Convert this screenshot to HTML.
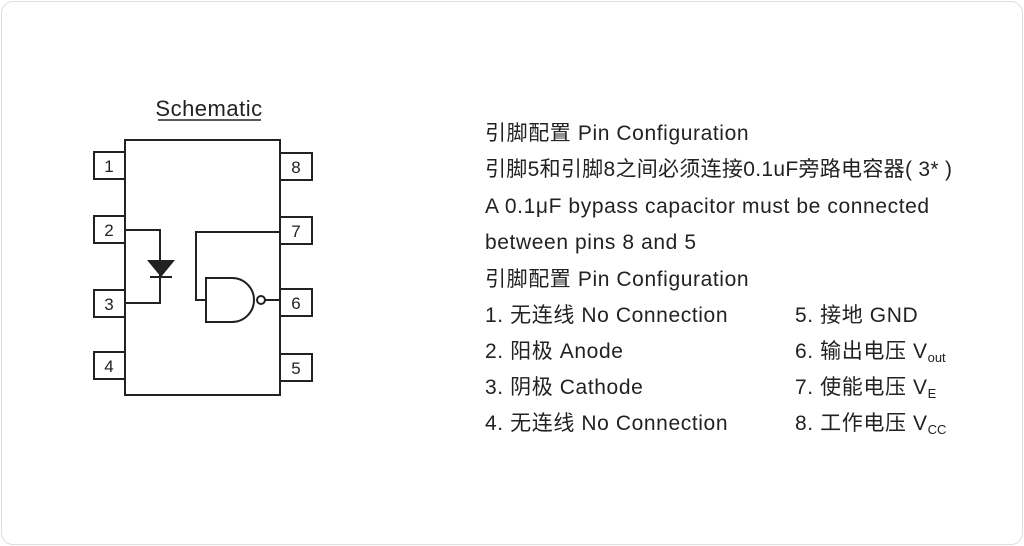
<!DOCTYPE html>
<html><head><meta charset="utf-8"><style>
body{margin:0;width:1024px;height:546px;background:#fff;overflow:hidden;position:relative;font-family:"Liberation Sans","Noto Sans CJK SC",sans-serif;color:#222}
.frame{position:absolute;left:1px;top:1px;width:1020px;height:542px;border:1px solid #ddd;border-radius:12px}
.t{position:absolute;font-size:21px;white-space:nowrap;line-height:24px;letter-spacing:0.6px}
sub{font-size:13px;vertical-align:-4px;letter-spacing:0}
</style></head><body>
<div class="frame"></div>
<svg width="1024" height="546" style="position:absolute;left:0;top:0" font-family="Liberation Sans, sans-serif">
<text x="209" y="116" font-size="22" text-anchor="middle" fill="#222" letter-spacing="0.5">Schematic</text>
<line x1="158" y1="120" x2="261" y2="120" stroke="#222" stroke-width="1.5"/>
<g fill="#fff" stroke="#222" stroke-width="2">
<rect x="125" y="140" width="155" height="255"/>
<rect x="94" y="152" width="31" height="27"/>
<rect x="94" y="216" width="31" height="27"/>
<rect x="94" y="290" width="31" height="27"/>
<rect x="94" y="352" width="31" height="27"/>
<rect x="280" y="153" width="32" height="27"/>
<rect x="280" y="217" width="32" height="27"/>
<rect x="280" y="289" width="32" height="27"/>
<rect x="280" y="354" width="32" height="27"/>
</g>
<g font-size="17" fill="#222" text-anchor="middle">
<text x="109" y="172">1</text><text x="109" y="236">2</text><text x="109" y="310">3</text><text x="109" y="372">4</text>
<text x="296" y="173">8</text><text x="296" y="237">7</text><text x="296" y="309">6</text><text x="296" y="374">5</text>
</g>
<g fill="none" stroke="#222" stroke-width="2">
<polyline points="125,230 160,230 160,303 125,303"/>
<line x1="150" y1="277" x2="172" y2="277"/>
<polyline points="280,232 196,232 196,300 206,300"/>
<path d="M206,278 H232 A22,22 0 0 1 232,322 H206 Z"/>
<circle cx="261" cy="300" r="4"/>
<line x1="265" y1="300" x2="280" y2="300"/>
</g>
<polygon points="147,260 175,260 161,277" fill="#222"/>
</svg>
<div class="t" style="left:485px;top:122px">引脚配置 Pin Configuration</div>
<div class="t" style="left:485px;top:158px;letter-spacing:0.3px">引脚5和引脚8之间必须连接0.1uF旁路电容器( 3* )</div>
<div class="t" style="left:485px;top:195px">A 0.1μF bypass capacitor must be connected</div>
<div class="t" style="left:485px;top:231px">between pins 8 and 5</div>
<div class="t" style="left:485px;top:268px">引脚配置 Pin Configuration</div>
<div class="t" style="left:485px;top:304px">1. 无连线 No Connection</div>
<div class="t" style="left:485px;top:340px">2. 阳极 Anode</div>
<div class="t" style="left:485px;top:376px">3. 阴极 Cathode</div>
<div class="t" style="left:485px;top:412px">4. 无连线 No Connection</div>
<div class="t" style="left:795px;top:304px">5. 接地 GND</div>
<div class="t" style="left:795px;top:340px">6. 输出电压 V<sub>out</sub></div>
<div class="t" style="left:795px;top:376px">7. 使能电压 V<sub>E</sub></div>
<div class="t" style="left:795px;top:412px">8. 工作电压 V<sub>CC</sub></div>
</body></html>
